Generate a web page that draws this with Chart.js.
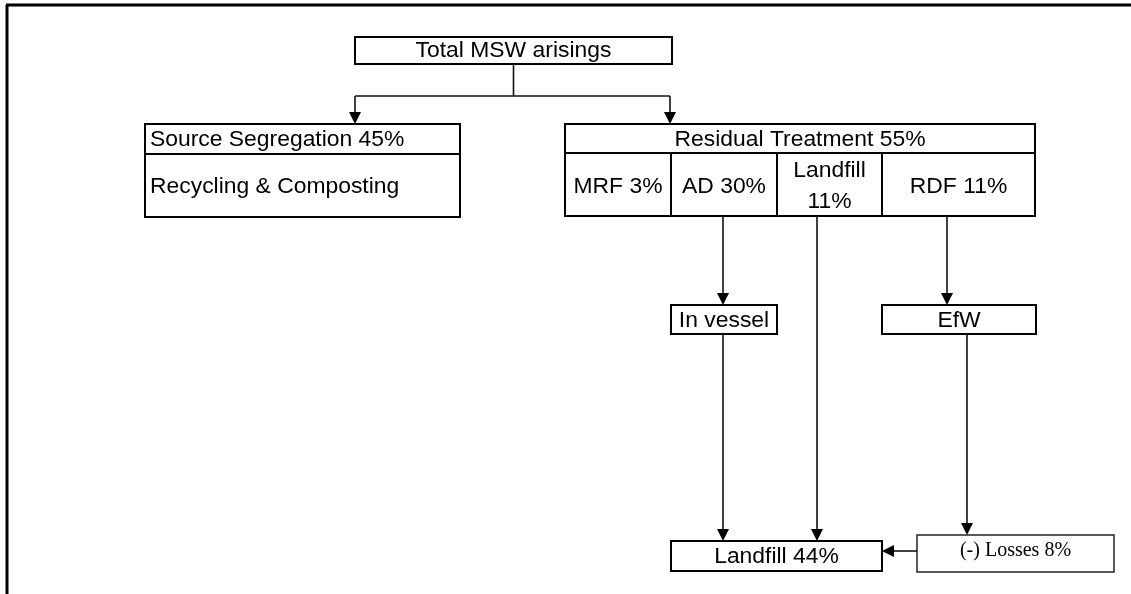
<!DOCTYPE html>
<html>
<head>
<meta charset="utf-8">
<script src="https://cdn.jsdelivr.net/npm/chart.js@4"></script>
<style>
  html, body { margin: 0; padding: 0; background: #fff; }
  #wrap { width: 1131px; height: 594px; }
</style>
</head>
<body>
<div id="wrap"><canvas id="flowChart" width="1131" height="594"></canvas></div>
<script>
// flow shares (% of total MSW arisings)
const sourceSegregationShare = [45];
const residualShare = [55];
const treatmentNames = ['MRF', 'AD', 'Landfill', 'RDF'];
const treatmentShares = [3, 30, 11, 11];
const landfillShare = [44];
const lossesShare = [8];
const topLabel = 'Total MSW arisings';
const recyclingLabel = 'Recycling & Composting';
const secondStageNames = ['In vessel', 'EfW'];

// layout of the diagram, in scale units (x 0..1131, y 0..594 top-down)
const boxLayout = {
    total:     [355, 37, 672, 64],
    source:    [145, 124, 460, 217],
    residual:  [565, 124, 1035, 216],
    inVessel:  [671, 305, 777, 334],
    efw:       [882, 305, 1036, 334],
    landfill:  [671, 541, 882, 571],
    losses:    [917, 535, 1114, 572]
};
const headerBottom = 154;
const treatmentEdges = [565, 671, 777, 882, 1035];

function px(chart, x, y) {
    return [chart.scales.x.getPixelForValue(x), chart.scales.y.getPixelForValue(y)];
}

function drawBox(ctx, chart, b, width, color) {
    const p1 = px(chart, b[0], b[1]);
    const p2 = px(chart, b[2], b[3]);
    ctx.lineWidth = width;
    ctx.strokeStyle = color;
    ctx.strokeRect(p1[0], p1[1], p2[0] - p1[0], p2[1] - p1[1]);
}

function hLine(ctx, chart, x1, x2, y, width, color) {
    const a = px(chart, x1, y), b = px(chart, x2, y);
    ctx.lineWidth = width;
    ctx.strokeStyle = color;
    ctx.beginPath();
    ctx.moveTo(a[0], a[1]);
    ctx.lineTo(b[0], b[1]);
    ctx.stroke();
}

function vLine(ctx, chart, x, y1, y2, width, color) {
    const a = px(chart, x, y1), b = px(chart, x, y2);
    ctx.lineWidth = width;
    ctx.strokeStyle = color;
    ctx.beginPath();
    ctx.moveTo(a[0], a[1]);
    ctx.lineTo(b[0], b[1]);
    ctx.stroke();
}

// arrow from (x1,y1) to (x2,y2), head at the end
function arrow(ctx, chart, x1, y1, x2, y2) {
    const a = px(chart, x1, y1), b = px(chart, x2, y2);
    const ang = Math.atan2(b[1] - a[1], b[0] - a[0]);
    const len = 12, half = 6;
    ctx.strokeStyle = '#111';
    ctx.lineWidth = 1.6;
    ctx.beginPath();
    ctx.moveTo(a[0], a[1]);
    ctx.lineTo(b[0] - Math.cos(ang) * len, b[1] - Math.sin(ang) * len);
    ctx.stroke();
    ctx.fillStyle = '#000';
    ctx.beginPath();
    ctx.moveTo(b[0], b[1]);
    ctx.lineTo(b[0] - Math.cos(ang) * len - Math.sin(ang) * half, b[1] - Math.sin(ang) * len + Math.cos(ang) * half);
    ctx.lineTo(b[0] - Math.cos(ang) * len + Math.sin(ang) * half, b[1] - Math.sin(ang) * len - Math.cos(ang) * half);
    ctx.closePath();
    ctx.fill();
}

// Arial-like text, a touch wider than normal like the original
function label(ctx, chart, text, x, y, align, size, font, stretch) {
    const p = px(chart, x, y);
    ctx.save();
    ctx.translate(p[0], p[1]);
    ctx.scale(stretch || 1.04, 1);
    ctx.font = size + 'px ' + (font || '"Liberation Sans", Arial, sans-serif');
    ctx.fillStyle = '#000';
    ctx.textAlign = align;
    ctx.textBaseline = 'middle';
    ctx.fillText(text, 0, 0);
    ctx.restore();
}

const flowPlugin = {
    id: 'flowPlugin',
    afterDraw(chart) {
        const ctx = chart.ctx;
        ctx.save();
        ctx.lineCap = 'butt';

        // frame (top and left)
        hLine(ctx, chart, 6, 1131, 5, 3, '#000');
        vLine(ctx, chart, 7, 5, 594, 3, '#000');

        // top box and split
        const t = boxLayout.total;
        drawBox(ctx, chart, t, 2, '#000');
        label(ctx, chart, topLabel, (t[0] + t[2]) / 2, 51, 'center', 22);
        const midTop = (t[0] + t[2]) / 2;
        vLine(ctx, chart, midTop, t[3], 96, 1.6, '#111');
        hLine(ctx, chart, 355, 670, 96, 1.6, '#111');
        arrow(ctx, chart, 355, 96, 355, boxLayout.source[1]);
        arrow(ctx, chart, 670, 96, 670, boxLayout.residual[1]);

        // source segregation
        const s = boxLayout.source;
        drawBox(ctx, chart, s, 2, '#000');
        hLine(ctx, chart, s[0], s[2], headerBottom, 2, '#000');
        label(ctx, chart, 'Source Segregation ' + sourceSegregationShare[0] + '%', s[0] + 5, 140, 'left', 22);
        label(ctx, chart, recyclingLabel, s[0] + 5, 187, 'left', 22);

        // residual treatment
        const r = boxLayout.residual;
        drawBox(ctx, chart, r, 2, '#000');
        hLine(ctx, chart, r[0], r[2], headerBottom - 1, 2, '#000');
        label(ctx, chart, 'Residual Treatment ' + residualShare[0] + '%', (r[0] + r[2]) / 2, 140, 'center', 22);
        for (let i = 1; i < treatmentEdges.length - 1; i++) {
            vLine(ctx, chart, treatmentEdges[i], headerBottom - 1, r[3], 2, '#000');
        }
        treatmentNames.forEach((name, i) => {
            const cx = (treatmentEdges[i] + treatmentEdges[i + 1]) / 2;
            if (name === 'Landfill') {
                label(ctx, chart, name, cx, 171, 'center', 22);
                label(ctx, chart, treatmentShares[i] + '%', cx, 202, 'center', 22);
            } else {
                label(ctx, chart, name + ' ' + treatmentShares[i] + '%', cx, 187, 'center', 22);
            }
        });

        // second stage
        const iv = boxLayout.inVessel, ef = boxLayout.efw, lf = boxLayout.landfill, ls = boxLayout.losses;
        arrow(ctx, chart, 723, r[3], 723, iv[1]);
        arrow(ctx, chart, 947, r[3], 947, ef[1]);
        drawBox(ctx, chart, iv, 2, '#000');
        drawBox(ctx, chart, ef, 2, '#000');
        label(ctx, chart, secondStageNames[0], (iv[0] + iv[2]) / 2, 321, 'center', 22);
        label(ctx, chart, secondStageNames[1], (ef[0] + ef[2]) / 2, 321, 'center', 22);

        // down to landfill
        arrow(ctx, chart, 723, iv[3], 723, lf[1]);
        arrow(ctx, chart, 817, r[3], 817, lf[1]);
        arrow(ctx, chart, 967, ef[3], 967, ls[1]);

        drawBox(ctx, chart, lf, 2, '#000');
        label(ctx, chart, 'Landfill ' + landfillShare[0] + '%', (lf[0] + lf[2]) / 2, 557, 'center', 22);

        drawBox(ctx, chart, ls, 1.5, '#222');
        label(ctx, chart, '(-) Losses ' + lossesShare[0] + '%', (ls[0] + ls[2]) / 2, 551, 'center', 20,
            '"Liberation Serif", "Times New Roman", serif', 1);
        arrow(ctx, chart, ls[0], 551, lf[2], 551);

        ctx.restore();
    }
};

new Chart(document.getElementById('flowChart').getContext('2d'), {
    type: 'scatter',
    data: { datasets: [{ data: [], pointRadius: 0 }] },
    options: {
        responsive: false,
        animation: false,
        layout: { padding: 0 },
        scales: {
            x: { type: 'linear', min: 0, max: 1131, display: false },
            y: { type: 'linear', min: 0, max: 594, reverse: true, display: false }
        },
        plugins: { legend: { display: false }, tooltip: { enabled: false } }
    },
    plugins: [flowPlugin]
});
</script>
</body>
</html>
